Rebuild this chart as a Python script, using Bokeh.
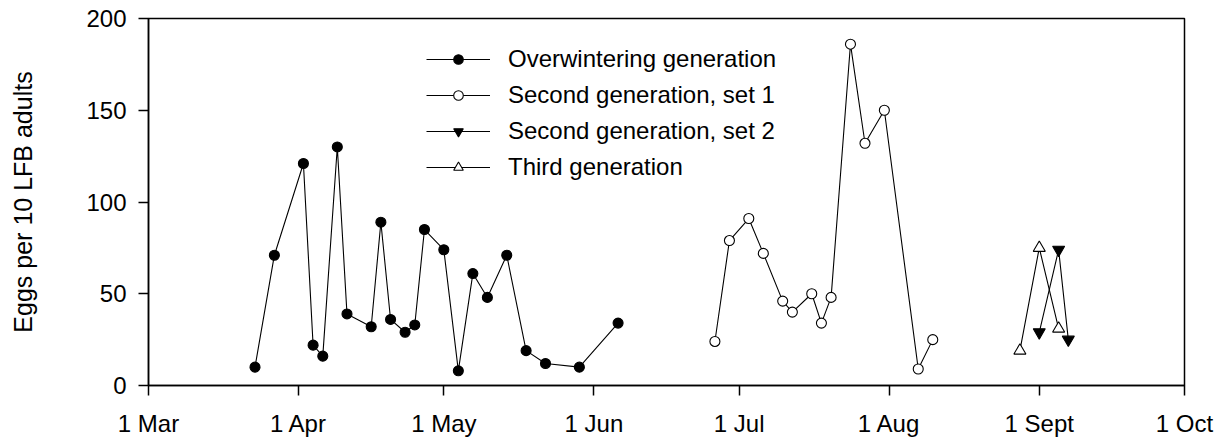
import pandas as pd
from bokeh.plotting import figure
from bokeh.models import Range1d, FixedTicker, Legend, LegendItem
from bokeh.embed import file_html
from bokeh.resources import INLINE

# ---- data ----
over_dates = ["2001-03-23", "2001-03-27", "2001-04-02", "2001-04-04", "2001-04-06",
              "2001-04-09", "2001-04-11", "2001-04-16", "2001-04-18", "2001-04-20",
              "2001-04-23", "2001-04-25", "2001-04-27", "2001-05-01", "2001-05-04",
              "2001-05-07", "2001-05-10", "2001-05-14", "2001-05-18", "2001-05-22",
              "2001-05-29", "2001-06-06"]
over_eggs = [10, 71, 121, 22, 16, 130, 39, 32, 89, 36, 29, 33, 85, 74, 8, 61, 48, 71,
             19, 12, 10, 34]

set1_dates = ["2001-06-26", "2001-06-29", "2001-07-03", "2001-07-06", "2001-07-10",
              "2001-07-12", "2001-07-16", "2001-07-18", "2001-07-20", "2001-07-24",
              "2001-07-27", "2001-07-31", "2001-08-07", "2001-08-10"]
set1_eggs = [24, 79, 91, 72, 46, 40, 50, 34, 48, 186, 132, 150, 9, 25]

set2_dates = ["2001-09-01", "2001-09-05", "2001-09-07"]
set2_eggs = [29, 74, 25]

third_dates = ["2001-08-28", "2001-09-01", "2001-09-05"]
third_eggs = [19, 75, 31]

month_ticks = ["2001-03-01", "2001-04-01", "2001-05-01", "2001-06-01", "2001-07-01",
               "2001-08-01", "2001-09-01", "2001-10-01"]
month_labels = ["1 Mar", "1 Apr", "1 May", "1 Jun", "1 Jul", "1 Aug", "1 Sept", "1 Oct"]
y_ticks = [0, 50, 100, 150, 200]

FONT = "Liberation Sans"


def to_ms(d):
    return pd.Timestamp(d).value // 10**6


tick_ms = [to_ms(d) for d in month_ticks]

p = figure(width=1217, height=441, output_backend="svg", toolbar_location=None,
           x_axis_type="linear",
           x_range=Range1d(tick_ms[0], tick_ms[-1]), y_range=Range1d(0, 200),
           min_border_left=148, min_border_right=33, min_border_top=18,
           min_border_bottom=56)

p.xgrid.visible = False
p.ygrid.visible = False
p.outline_line_color = "black"
p.outline_line_width = 1.5
p.background_fill_color = "white"
p.border_fill_color = "white"

# axes
p.xaxis.ticker = FixedTicker(ticks=tick_ms)
p.xaxis.major_label_overrides = {t: l for t, l in zip(tick_ms, month_labels)}
p.yaxis.ticker = FixedTicker(ticks=y_ticks)
for ax in (p.xaxis[0], p.yaxis[0]):
    ax.axis_line_color = "black"
    ax.axis_line_width = 1.5
    ax.major_tick_line_color = "black"
    ax.major_tick_line_width = 1.5
    ax.major_tick_in = 0
    ax.major_tick_out = 10
    ax.minor_tick_line_color = None
    ax.major_label_text_font = FONT
    ax.major_label_text_font_size = "24px"
    ax.major_label_text_color = "black"
p.xaxis.major_label_standoff = 14
p.yaxis.major_label_standoff = 12
p.yaxis.axis_label = "Eggs per 10 LFB adults"
p.yaxis.axis_label_text_font = FONT
p.yaxis.axis_label_text_font_size = "25px"
p.yaxis.axis_label_text_font_style = "normal"
p.yaxis.axis_label_text_color = "black"
p.yaxis.axis_label_standoff = 46

series = [
    ("Overwintering generation", over_dates, over_eggs, "circle", "black", 10),
    ("Second generation, set 1", set1_dates, set1_eggs, "circle", "white", 10),
    ("Second generation, set 2", set2_dates, set2_eggs, "inverted_triangle", "black", 12),
    ("Third generation", third_dates, third_eggs, "triangle", "white", 12),
]

items = []
for name, dates, vals, marker, fill, size in series:
    xs = [to_ms(d) for d in dates]
    ln = p.line(xs, vals, line_color="black", line_width=1.1)
    sc = p.scatter(xs, vals, marker=marker, size=size, fill_color=fill,
                   line_color="black", line_width=1.1)
    items.append(LegendItem(label=name, renderers=[ln, sc]))

legend = Legend(items=items, location=(278, 204), orientation="vertical",
                border_line_color=None, background_fill_alpha=0,
                padding=0, margin=0, spacing=8,
                glyph_width=64, glyph_height=24, label_height=24,
                label_standoff=18, label_text_font=FONT,
                label_text_font_size="24px", label_text_color="black")
p.add_layout(legend)

open("out.html", "w").write(file_html(p, INLINE))
